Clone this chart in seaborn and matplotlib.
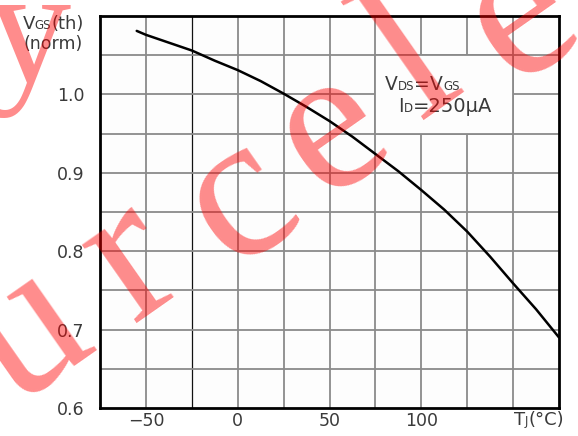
import matplotlib
matplotlib.use("Agg")
import matplotlib.pyplot as plt
import seaborn as sns
import pandas as pd
from matplotlib.offsetbox import TextArea, HPacker, VPacker, AnnotationBbox
from matplotlib.patches import Rectangle

# values
tj = [-55, -50, -37.5, -25, -12.5, 0, 12.5, 25, 37.5, 50,
      62.5, 75, 87.5, 100, 112.5, 125, 137.5, 150, 162.5, 175]
vgs_norm = [1.081, 1.076, 1.066, 1.056, 1.043, 1.031, 1.017, 1.001, 0.984, 0.966,
            0.946, 0.924, 0.902, 0.878, 0.853, 0.825, 0.793, 0.759, 0.726, 0.690]

x_ticks = [-50, 0, 50, 100]
x_ticklabels = ["\u221250", "0", "50", "100"]
y_ticks = [0.6, 0.7, 0.8, 0.9, 1.0]
y_ticklabels = ["0.6", "0.7", "0.8", "0.9", "1.0"]
x_grid = [-50, -25, 0, 25, 50, 75, 100, 125, 150]
y_grid = [0.65, 0.7, 0.75, 0.8, 0.85, 0.9, 0.95, 1.0, 1.05]

# watermark letters (figure pixel centres, measured from top-left)
wm_letters = ["u", "r", "c", "e", "l", "e", "y"]
wm_x = [28, 132, 240, 332, 415, 522, 30]
wm_y = [335, 262, 202, 132, 62, 18, 42]
wm_rot = [35, 35, 35, 35, 35, 35, 0]
wm_size = [150, 150, 150, 150, 150, 150, 120]

sns.set_theme(style="white")
plt.rcParams['font.family'] = ['DejaVu Sans']

W, H = 578, 436
fig = plt.figure(figsize=(W / 100, H / 100), dpi=100)
fig.patch.set_facecolor('white')
ax = fig.add_axes([100 / W, 28 / H, 459 / W, 392 / H])
ax.set_facecolor('#fdfdfd')

grid_col = '#8a8a8a'
txt_col = '#3a3a3a'

for gx in x_grid:
    if gx == -25:
        ax.axvline(gx, color='#111111', lw=0.9, zorder=1)
    else:
        ax.axvline(gx, color=grid_col, lw=1.3, zorder=1)
for gy in y_grid:
    ax.axhline(gy, color=grid_col, lw=1.3, zorder=1)

# blank cell block behind the test conditions
ax.add_patch(Rectangle((75, 0.95), 75, 0.1, facecolor='#fdfdfd',
                       edgecolor=grid_col, lw=1.3, zorder=1.5))

df = pd.DataFrame({"tj": tj, "vgs": vgs_norm})
sns.lineplot(data=df, x="tj", y="vgs", color='black', lw=1.8, ax=ax, zorder=3)

ax.set_xlim(-75, 175)
ax.set_ylim(0.6, 1.1)
ax.set_xticks(x_ticks, x_ticklabels)
ax.set_yticks(y_ticks, y_ticklabels)
ax.tick_params(axis='both', length=0, labelsize=12.5, colors=txt_col)
ax.tick_params(axis='y', pad=11)
ax.tick_params(axis='x', pad=3)
ax.set_xlabel("")
ax.set_ylabel("")
for s in ax.spines.values():
    s.set_color('black')
    s.set_linewidth(2)
    s.set_zorder(4)


def mixed(parts, color=txt_col):
    kids = [TextArea(t, textprops=dict(size=sz, color=color)) for t, sz in parts]
    return HPacker(children=kids, align="baseline", pad=0, sep=0)


def place(box, x, y, align=(0.5, 0.5)):
    ab = AnnotationBbox(box, (x, H - y), xycoords='figure pixels',
                        box_alignment=align, frameon=False, pad=0, zorder=6)
    fig.add_artist(ab)


# y axis title
ylab = VPacker(children=[mixed([("V", 13), ("GS", 8.5), ("(th)", 13)]),
                         mixed([("(norm)", 12.5)])],
               align="center", pad=0, sep=2)
place(ylab, 53, 34)

# x axis title in place of the 150 tick label
place(mixed([("T", 13), ("J", 8.5), ("(\u00b0C)", 13)]), 539, 420)

# test conditions
place(mixed([("V", 13.5), ("DS", 8.5), ("=", 13.5), ("V", 13.5), ("GS", 8.5)]), 385, 84, (0, 0.5))
place(mixed([("I", 13.5), ("D", 8.5), ("=250\u03bcA", 14)]), 398, 106, (0, 0.5))

# red watermark
for ch, wx, wy, rot, sz in zip(wm_letters, wm_x, wm_y, wm_rot, wm_size):
    fig.text(wx / W, 1 - wy / H, ch, fontsize=sz, family='Liberation Serif',
             color='#ff0000', alpha=0.45, rotation=rot, rotation_mode='anchor',
             ha='center', va='center', zorder=10)

fig.savefig("out.png", dpi=100)
